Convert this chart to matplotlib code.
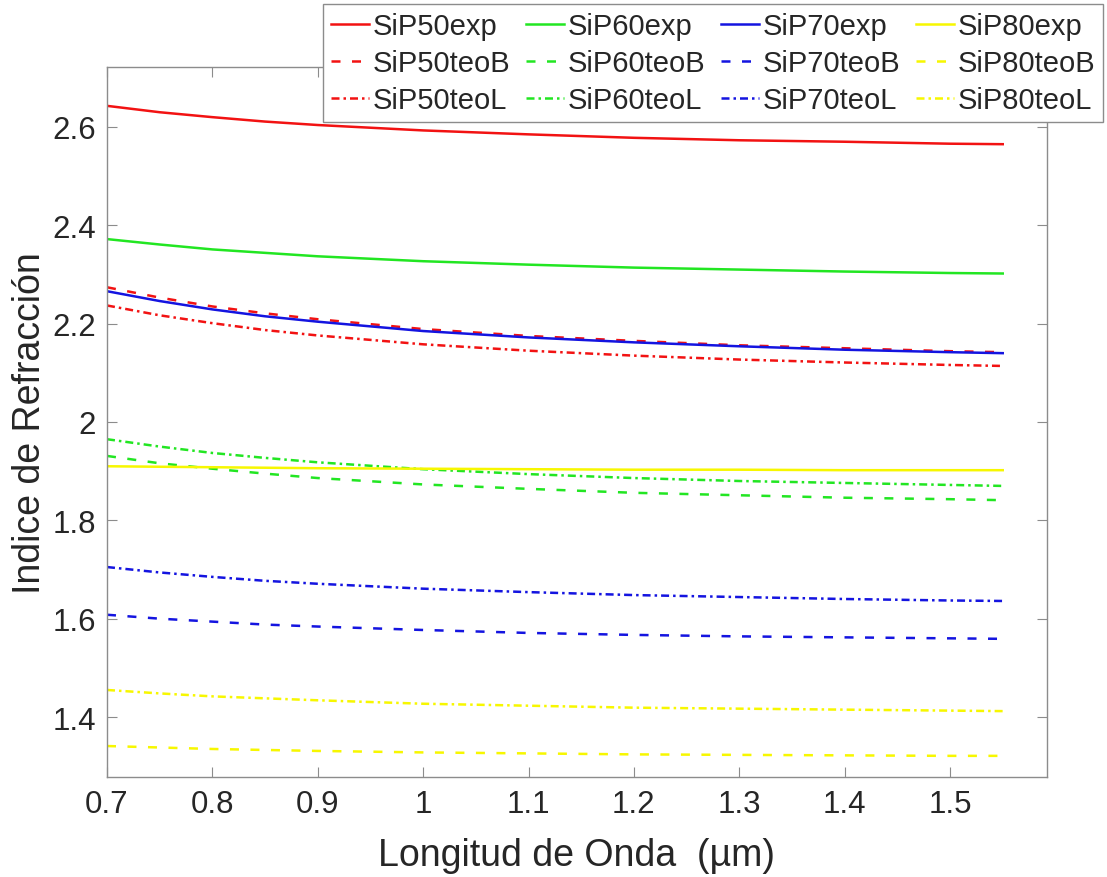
import matplotlib
matplotlib.use("Agg")
import matplotlib.pyplot as plt

plt.rcParams['font.family'] = ['Liberation Sans', 'DejaVu Sans']

# Wavelength (µm)
wavelength = [0.70, 0.75, 0.80, 0.85, 0.90, 1.00, 1.10, 1.20, 1.30, 1.40, 1.50, 1.55]

# Refractive index series
sip50_exp  = [2.643, 2.630, 2.620, 2.611, 2.604, 2.593, 2.585, 2.578, 2.573, 2.570, 2.566, 2.565]
sip50_teoB = [2.274, 2.253, 2.235, 2.221, 2.209, 2.189, 2.175, 2.165, 2.156, 2.150, 2.144, 2.142]
sip50_teoL = [2.237, 2.217, 2.201, 2.187, 2.176, 2.158, 2.145, 2.135, 2.127, 2.121, 2.116, 2.114]
sip60_exp  = [2.372, 2.361, 2.351, 2.344, 2.337, 2.327, 2.320, 2.314, 2.310, 2.306, 2.303, 2.302]
sip60_teoB = [1.931, 1.916, 1.905, 1.895, 1.886, 1.873, 1.864, 1.856, 1.851, 1.846, 1.843, 1.841]
sip60_teoL = [1.965, 1.950, 1.937, 1.927, 1.918, 1.904, 1.894, 1.886, 1.880, 1.876, 1.872, 1.870]
sip70_exp  = [2.266, 2.246, 2.229, 2.215, 2.204, 2.185, 2.172, 2.162, 2.154, 2.147, 2.142, 2.140]
sip70_teoB = [1.608, 1.600, 1.594, 1.588, 1.584, 1.577, 1.571, 1.567, 1.564, 1.562, 1.560, 1.559]
sip70_teoL = [1.705, 1.694, 1.685, 1.677, 1.671, 1.661, 1.654, 1.648, 1.644, 1.640, 1.637, 1.636]
sip80_exp  = [1.910, 1.909, 1.908, 1.907, 1.906, 1.905, 1.904, 1.903, 1.903, 1.902, 1.902, 1.902]
sip80_teoB = [1.341, 1.338, 1.335, 1.333, 1.331, 1.328, 1.326, 1.324, 1.323, 1.322, 1.321, 1.321]
sip80_teoL = [1.455, 1.448, 1.442, 1.438, 1.434, 1.427, 1.423, 1.419, 1.417, 1.415, 1.413, 1.412]

x_ticks = [0.7, 0.8, 0.9, 1.0, 1.1, 1.2, 1.3, 1.4, 1.5]
x_tick_labels = ['0.7', '0.8', '0.9', '1', '1.1', '1.2', '1.3', '1.4', '1.5']
y_ticks = [1.4, 1.6, 1.8, 2.0, 2.2, 2.4, 2.6]
y_tick_labels = ['1.4', '1.6', '1.8', '2', '2.2', '2.4', '2.6']

RED, GREEN, BLUE, YELLOW = '#f21212', '#22e622', '#1414e0', '#f7f700'
DASH = (0, (3.6, 4.6))
DASHDOT = (0, (3.2, 1.6, 1.0, 1.6))

series = [
    (sip50_exp,  RED,    '-',     'SiP50exp'),
    (sip50_teoB, RED,    DASH,    'SiP50teoB'),
    (sip50_teoL, RED,    DASHDOT, 'SiP50teoL'),
    (sip60_exp,  GREEN,  '-',     'SiP60exp'),
    (sip60_teoB, GREEN,  DASH,    'SiP60teoB'),
    (sip60_teoL, GREEN,  DASHDOT, 'SiP60teoL'),
    (sip70_exp,  BLUE,   '-',     'SiP70exp'),
    (sip70_teoB, BLUE,   DASH,    'SiP70teoB'),
    (sip70_teoL, BLUE,   DASHDOT, 'SiP70teoL'),
    (sip80_exp,  YELLOW, '-',     'SiP80exp'),
    (sip80_teoB, YELLOW, DASH,    'SiP80teoB'),
    (sip80_teoL, YELLOW, DASHDOT, 'SiP80teoL'),
]

W, H = 1107, 878
fig = plt.figure(figsize=(W / 100, H / 100), dpi=100)
ax = fig.add_axes([107 / W, (H - 778) / H, (1047 - 107) / W, (778 - 68) / H])

for vals, col, ls, lab in series:
    ax.plot(wavelength, vals, color=col, linestyle=ls, linewidth=1.8, label=lab)

ax.set_xlim(0.7, 1.592)
ax.set_ylim(1.278, 2.722)
ax.set_xticks(x_ticks)
ax.set_xticklabels(x_tick_labels)
ax.set_yticks(y_ticks)
ax.set_yticklabels(y_tick_labels)

for s in ax.spines.values():
    s.set_color('#8c8c8c')
    s.set_linewidth(1.0)
ax.tick_params(axis='both', which='both', direction='in', top=True, right=True,
               length=7, width=0.8, color='#8c8c8c', labelsize=22.5,
               labelcolor='#262626')
ax.tick_params(axis='x', pad=9)
ax.tick_params(axis='y', pad=8)

ax.set_xlabel('Longitud de Onda  (µm)', fontsize=27, color='#262626')
ax.set_ylabel('Indice de Refracción', fontsize=27, color='#262626')
ax.xaxis.set_label_coords(0.5, -0.085)
ax.yaxis.set_label_coords(-0.063, 0.5)

leg = ax.legend(ncol=4, loc='upper right',
                bbox_to_anchor=(1103 / W, 1 - 5 / H), bbox_transform=fig.transFigure,
                borderaxespad=0, fontsize=21, frameon=True, fancybox=False,
                handlelength=1.3, handletextpad=0.12, columnspacing=0.55,
                labelspacing=0.31, borderpad=0.27)
leg.get_frame().set_edgecolor('#8c8c8c')
leg.get_frame().set_linewidth(1.0)
leg.get_frame().set_alpha(1.0)
leg.set_zorder(10)
for t in leg.get_texts():
    t.set_color('#262626')

fig.savefig('out.png', dpi=100)
